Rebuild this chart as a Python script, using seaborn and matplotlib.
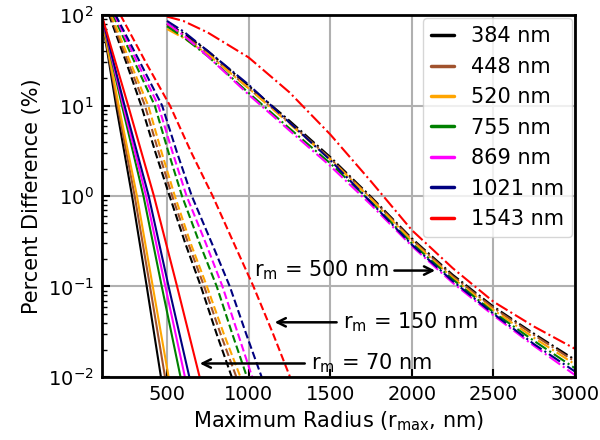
import matplotlib
matplotlib.use("Agg")
import matplotlib.pyplot as plt
import seaborn as sns
import pandas as pd

# ---- data ----
wavelengths = ["384 nm", "448 nm", "520 nm", "755 nm", "869 nm", "1021 nm", "1543 nm"]
colors = ["black", "sienna", "orange", "green", "magenta", "navy", "red"]

# r_m = 70 nm (solid): radius where each percent level is reached
y70_384 = [95, 10, 1, 0.1, 0.01]
y70_448 = [96, 10, 1, 0.1, 0.01]
y70_520 = [96, 10, 1, 0.1, 0.01]
y70_755 = [97, 10, 1, 0.1, 0.01]
y70_869 = [98, 10, 1, 0.1, 0.01]
y70_1021 = [99, 10, 1, 0.1, 0.01]
y70_1543 = [100, 10, 1, 0.1, 0.01]
x70_384 = [100, 188, 286, 376, 463]
x70_448 = [100, 197, 302, 396, 488]
x70_520 = [100, 204, 316, 413, 510]
x70_755 = [100, 224, 356, 468, 583]
x70_869 = [100, 232, 372, 490, 610]
x70_1021 = [100, 240, 388, 510, 637]
x70_1543 = [100, 262, 420, 562, 700]

# r_m = 150 nm (dashed)
y150 = [100, 30, 10, 3, 1, 0.3, 0.1, 0.03, 0.01]
x150_384 = [145, 250, 342, 430, 516, 612, 708, 804, 897]
x150_448 = [152, 262, 365, 450, 532, 630, 728, 828, 925]
x150_520 = [158, 275, 385, 468, 548, 645, 745, 848, 950]
x150_755 = [170, 302, 425, 510, 592, 700, 805, 900, 990]
x150_869 = [178, 318, 447, 535, 620, 738, 840, 935, 1022]
x150_1021 = [185, 335, 470, 562, 652, 775, 885, 985, 1080]
x150_1543 = [215, 370, 518, 650, 780, 910, 1030, 1150, 1254]

# r_m = 500 nm (dash-dot): percent values at fixed radii
x500 = [500, 600, 750, 1000, 1250, 1500, 1750, 2000, 2250, 2500, 2750, 3000]
y500_384 = [80, 63, 40, 16.5, 6.8, 2.7, 0.98, 0.34, 0.135, 0.060, 0.030, 0.0155]
y500_448 = [77, 60, 38, 15.5, 6.5, 2.6, 0.95, 0.33, 0.130, 0.058, 0.029, 0.0148]
y500_520 = [70, 56, 37, 15.5, 6.3, 2.55, 0.93, 0.32, 0.125, 0.055, 0.027, 0.0138]
y500_755 = [75, 57, 35, 13.8, 5.6, 2.3, 0.86, 0.30, 0.120, 0.052, 0.025, 0.0125]
y500_869 = [81, 60, 35, 13.2, 5.3, 2.15, 0.80, 0.28, 0.110, 0.048, 0.022, 0.0105]
y500_1021 = [86, 66, 40, 17, 6.5, 2.5, 0.85, 0.29, 0.115, 0.050, 0.023, 0.0115]
y500_1543 = [96, 86, 64, 34, 14, 4.8, 1.45, 0.42, 0.160, 0.068, 0.036, 0.0205]

xs70 = [x70_384, x70_448, x70_520, x70_755, x70_869, x70_1021, x70_1543]
ys70 = [y70_384, y70_448, y70_520, y70_755, y70_869, y70_1021, y70_1543]
xs150 = [x150_384, x150_448, x150_520, x150_755, x150_869, x150_1021, x150_1543]
ys500 = [y500_384, y500_448, y500_520, y500_755, y500_869, y500_1021, y500_1543]

# ---- style ----
sns.set_theme(style="whitegrid")
plt.rcParams["font.family"] = ["DejaVu Sans"]
plt.rcParams["mathtext.default"] = "regular"
for k in ["text.color", "axes.labelcolor", "xtick.color", "ytick.color"]:
    plt.rcParams[k] = "black"

fig = plt.figure(figsize=(6, 4.4), dpi=100)
ax = fig.add_axes([0.1695, 0.1432, 0.7888, 0.8227])

lw = 1.5
for i, (lab, c) in enumerate(zip(wavelengths, colors)):
    df = pd.DataFrame({"x": xs70[i], "y": ys70[i]})
    sns.lineplot(data=df, x="x", y="y", color=c, lw=lw, ls="-", label=lab,
                 ax=ax, sort=False, estimator=None)
for i, c in enumerate(colors):
    df = pd.DataFrame({"x": xs150[i], "y": y150})
    sns.lineplot(data=df, x="x", y="y", color=c, lw=lw, ls="--", ax=ax,
                 sort=False, estimator=None, legend=False)
for i, c in enumerate(colors):
    df = pd.DataFrame({"x": x500, "y": ys500[i]})
    sns.lineplot(data=df, x="x", y="y", color=c, lw=lw, ls="-.", ax=ax,
                 sort=False, estimator=None, legend=False)

ax.set_yscale("log")
ax.set_xlim(100, 3000)
ax.set_ylim(1e-2, 1e2)
ax.set_xticks([500, 1000, 1500, 2000, 2500, 3000])
ax.grid(True, which="major", color="#b0b0b0", lw=1.5)
ax.grid(False, which="minor")
for s in ax.spines.values():
    s.set_color("black")
    s.set_linewidth(2)
ax.tick_params(axis="both", which="major", direction="in", length=6, width=1.5,
               labelsize=14, colors="black", bottom=True, left=True, pad=6)
ax.tick_params(axis="y", which="minor", direction="in", length=3.5, width=1,
               left=True, colors="black")

ax.set_xlabel("Maximum Radius (r$_{max}$, nm)", fontsize=15)
ax.set_ylabel("Percent Difference (%)", fontsize=15)

ann = dict(arrowstyle="->", color="black", lw=1.8)
ax.annotate("r$_m$ = 500 nm", xy=(2160, 0.15), xytext=(1444, 0.15),
            ha="center", va="center", fontsize=15, arrowprops=ann)
ax.annotate("r$_m$ = 150 nm", xy=(1143, 0.0402), xytext=(1989, 0.0402),
            ha="center", va="center", fontsize=15, arrowprops=ann)
ax.annotate("r$_m$ = 70 nm", xy=(684, 0.0141), xytext=(1753, 0.0141),
            ha="center", va="center", fontsize=15, arrowprops=ann)

leg = ax.legend(loc="upper right", fontsize=15, handlelength=1.1,
                labelspacing=0.5, borderaxespad=0.15, handletextpad=0.8,
                framealpha=0.8)
for l in leg.get_lines():
    l.set_linewidth(2.5)

fig.savefig("out.png", dpi=100)
